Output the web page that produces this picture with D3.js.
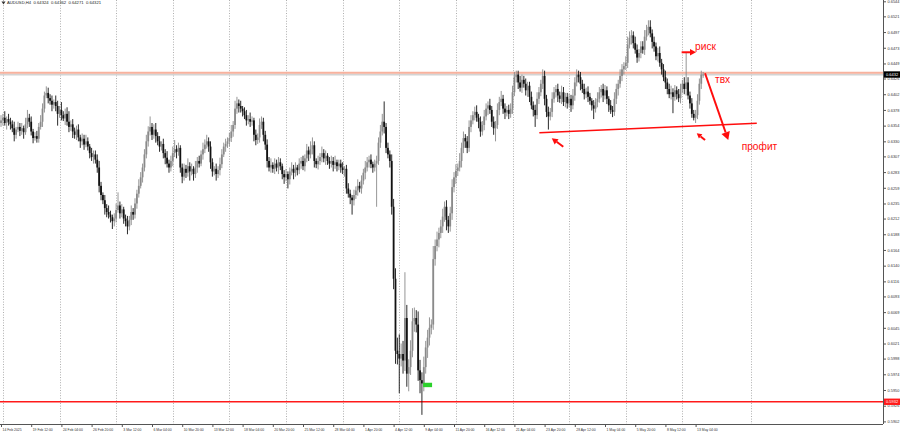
<!DOCTYPE html>
<html><head><meta charset="utf-8">
<script src="https://cdn.jsdelivr.net/npm/d3@7"></script>
<style>
html,body{margin:0;padding:0;background:#fff;}
svg{display:block;font-family:"Liberation Sans",Arial,sans-serif;}
</style>
</head><body>
<svg id="chart" width="900" height="435"></svg>
<script>
// ---------- DATA ----------
const symbolTitle = "AUDUSD,H4";
const lastQuote = ["0.64324", "0.64362", "0.64271", "0.64321"]; // O H L C of the last bar
const pipSize = 0.0001;
const firstOpen = 6358; // in pips
// H4 closes, in pips (price / 0.0001), from 14 Feb 2025 20:00
const closes = [
6362,6366,6358,6364,6360,6356,6350,6340,6348,6352,
6346,6350,6344,6356,6366,6360,6345,6335,6338,6334,
6352,6360,6380,6400,6404,6396,6392,6386,6390,6384,
6372,6378,6370,6365,6372,6360,6352,6356,6345,6340,
6348,6336,6330,6334,6325,6330,6322,6312,6306,6310,
6302,6290,6262,6248,6240,6228,6222,6218,6214,6208,
6212,6225,6232,6220,6226,6212,6208,6200,6210,6222,
6218,6235,6250,6262,6275,6290,6310,6330,6345,6352,
6340,6348,6338,6330,6322,6326,6312,6305,6296,6290,
6300,6312,6318,6314,6320,6290,6276,6288,6282,6292,
6284,6288,6280,6290,6300,6296,6310,6318,6325,6330,
6322,6298,6284,6288,6280,6286,6295,6310,6322,6326,
6330,6335,6345,6355,6380,6388,6384,6380,6376,6370,
6362,6364,6360,6362,6340,6332,6336,6355,6360,6340,
6325,6300,6290,6294,6288,6296,6290,6298,6292,6280,
6275,6280,6272,6284,6288,6282,6290,6286,6296,6300,
6292,6304,6316,6310,6318,6324,6300,6295,6300,6306,
6312,6304,6308,6300,6296,6300,6294,6298,6292,6296,
6290,6286,6288,6258,6250,6244,6240,6248,6255,6262,
6258,6270,6282,6290,6298,6302,6295,6290,6296,6300,
6328,6345,6360,6352,6320,6310,6300,6230,6120,6010,
6005,5998,6005,5995,6060,5975,5985,6010,6055,6060,
6050,5980,5965,5960,5985,6015,6030,6045,6050,6150,
6170,6180,6190,6200,6215,6230,6210,6200,6220,6260,
6275,6285,6290,6300,6320,6335,6330,6320,6352,6362,
6370,6375,6366,6360,6345,6355,6368,6380,6385,6378,
6360,6350,6355,6378,6390,6395,6380,6374,6378,6372,
6380,6405,6428,6432,6420,6412,6424,6418,6408,6415,
6398,6385,6378,6370,6395,6405,6418,6430,6395,6375,
6368,6375,6395,6405,6410,6400,6395,6405,6390,6398,
6388,6395,6385,6400,6420,6432,6428,6418,6410,6402,
6406,6398,6392,6385,6380,6390,6395,6405,6410,6400,
6408,6395,6385,6378,6375,6395,6410,6418,6430,6440,
6445,6450,6478,6488,6492,6480,6470,6458,6465,6475,
6470,6490,6500,6505,6495,6482,6475,6460,6465,6450,
6440,6428,6420,6410,6402,6405,6398,6408,6402,6396,
6410,6418,6410,6420,6400,6388,6372,6366,6370,6392,
6418,6432,6432
];
// upper wick above the body, in pips
const wickUp = [
8,6,10,4,8,6,6,10,4,8, 6,8,4,10,12,6,8,4,6,8, 6,10,8,6,10,8,6,8,4,10, 8,6,12,6,8,10,16,6,8,6,
6,8,4,8,6,10,6,4,8,6, 6,8,10,6,4,8,6,10,6,4, 8,10,20,6,8,4,6,8,6,10, 6,8,6,10,8,6,8,10,8,16,
6,8,10,6,8,4,8,6,10,6, 8,10,14,6,8,4,6,8,6,12, 6,8,4,10,6,8,6,10,8,10, 6,8,6,4,8,6,10,8,6,8,
6,8,10,6,12,10,6,8,4,6, 8,6,10,6,4,8,6,10,8,6, 6,8,6,10,4,8,6,8,6,4, 6,8,4,6,10,6,8,4,8,6,
8,6,10,6,12,12,6,4,8,6, 10,6,8,4,6,8,6,10,4,6, 6,8,4,6,8,6,4,8,6,10, 6,8,6,10,8,6,8,4,6,8,
8,10,12,31,6,8,6,10,12,16, 20,30,16,20,70,20,12,16,20,16, 12,20,16,12,16,10,12,16,8,20, 10,12,8,10,12,8,10,6,10,12,
8,10,6,12,8,10,6,8,10,8, 6,8,10,6,8,6,10,8,6,10, 6,8,6,10,8,12,6,8,6,8, 8,10,8,6,6,10,8,6,8,6,
6,8,6,8,10,8,6,10,8,6, 8,6,10,8,6,8,6,10,8,6, 6,8,6,10,8,8,6,8,6,8, 6,8,6,4,8,6,10,8,6,8,
8,6,4,8,6,10,8,6,10,8, 6,10,12,10,8,6,10,8,6,8, 8,10,8,10,10,6,8,6,8,10, 6,8,10,6,8,10,6,8,6,8,
8,6,10,45,8,6,8,6,8,10, 8,6,4
];
// lower wick below the body, in pips
const wickDn = [
6,8,4,10,6,8,6,10,6,4, 8,6,10,4,6,8,6,8,4,6, 6,4,8,6,4,8,6,10,6,8, 18,6,8,4,10,6,8,6,10,6,
8,6,10,6,8,4,6,8,6,10, 6,8,10,8,6,10,8,6,8,12, 8,6,4,8,6,8,8,12,6,8, 8,6,8,6,4,8,6,6,8,6,
8,6,10,6,8,6,8,10,6,8, 6,8,6,10,6,8,10,6,8,6, 14,6,10,6,8,6,4,8,6,6, 8,10,8,6,10,6,8,6,4,8,
6,8,6,8,6,8,10,6,8,6, 8,6,8,6,10,8,6,8,6,10, 8,10,6,8,6,8,6,10,6,8, 10,6,14,8,6,10,6,8,6,8,
6,8,6,10,6,8,10,6,8,6, 8,6,10,6,8,6,10,6,8,6, 8,6,10,8,6,10,22,8,6,8, 6,8,6,10,6,8,6,8,6,66,
6,8,6,10,8,6,10,12,16,20, 16,53,12,20,16,20,27,12,10,16, 12,16,20,48,12,10,16,12,10,8, 10,8,12,8,10,8,16,10,8,10,
8,10,8,6,10,8,10,8,6,8, 6,8,6,10,8,6,8,6,10,6, 8,10,20,6,8,6,8,10,6,8, 6,8,6,8,10,6,8,6,8,10,
8,6,10,18,6,8,6,8,10,8, 20,6,8,6,8,10,6,8,6,8, 8,6,10,6,8,6,8,10,6,8, 6,8,6,8,16,6,8,6,8,10,
6,8,10,6,8,6,8,10,6,8, 8,6,8,6,10,8,6,8,6,8, 6,8,6,8,6,10,8,6,8,6, 8,6,10,8,6,8,25,6,8,6,
8,6,8,10,6,8,6,4,8,6, 6,8,5
];
// time axis labels and the bar index they sit on
const timeLabels = ["14 Feb 2025","19 Feb 12:00","24 Feb 04:00","26 Feb 20:00","3 Mar 12:00","6 Mar 04:00",
  "10 Mar 20:00","13 Mar 12:00","18 Mar 04:00","20 Mar 20:00","25 Mar 12:00","28 Mar 04:00","1 Apr 20:00",
  "4 Apr 12:00","9 Apr 04:00","11 Apr 20:00","16 Apr 12:00","21 Apr 04:00","23 Apr 20:00","28 Apr 12:00",
  "1 May 04:00","5 May 20:00","8 May 12:00","13 May 04:00"];
const timeLabelBars = [0,16,32,48,64,80,96,112,128,144,160,176,192,208,224,240,256,272,288,304,320,336,352,368];
// weekly grid (Monday 00:00) bar positions
const weekGridBars = [1,31,61,91,121,151,181,211,241,271,301,331,361,397.5];
// price axis labels
const priceTicks = ["0.6544","0.6521","0.6497","0.6473","0.6449","0.6426","0.6402","0.6378","0.6354","0.6330",
  "0.6307","0.6283","0.6259","0.6235","0.6212","0.6188","0.6164","0.6140","0.6116","0.6093","0.6069","0.6045",
  "0.6021","0.5998","0.5974","0.5950","0.5926","0.5902"];
const bidPrice = 0.64321;
const bidLabel = "0.6432";
const resistanceLevel = 0.6435;   // salmon horizontal
const supportLevel = 0.5932;      // red horizontal
const supportLabel = "0.5932";
const signalMark = {bar: 226, price: 0.59577};
// hand-drawn annotations: [bar, price]
const trendLine = [[285.2, 0.63432], [400.4, 0.63576]];
const arrowLines = [ // [fromBar, fromPrice, toBar, toPrice, headSize]
  [297.9, 0.63218, 291.8, 0.63347, 6],
  [373.0, 0.63320, 368.6, 0.63423, 5],
  [360.6, 0.64661, 368.2, 0.64661, 6],
  [373.0, 0.64340, 385.3, 0.63320, 8]
];
const noteTexts = [ // [text, bar, price]
  ["риск", 367.7, 0.64703],
  ["твх", 378.3, 0.64196],
  ["профит", 392.4, 0.63168]
];

// ---------- DRAW ----------
const W = 900, H = 435, plotR = 883, plotB = 424;
const svg = d3.select("#chart");
const x = d3.scaleLinear().domain([0, 467.28]).range([1, plotR]);
const y = d3.scaleLinear().domain([0.5902, 0.6544]).range([421.4, 1.3]);

svg.append("rect").attr("width", W).attr("height", H).attr("fill", "#fff");

const plot = svg.append("g");
svg.append("defs").append("clipPath").attr("id", "clip")
  .append("rect").attr("x", 0).attr("y", 0).attr("width", plotR).attr("height", plotB);
plot.attr("clip-path", "url(#clip)");

// grid
plot.selectAll("line.grid").data(weekGridBars).enter().append("line")
  .attr("x1", d => Math.round(x(d)) + 0.5).attr("x2", d => Math.round(x(d)) + 0.5)
  .attr("y1", 0).attr("y2", plotB)
  .attr("stroke", "#9a9a9a").attr("stroke-width", 0.8).attr("stroke-dasharray", "1,1.6");

// horizontal levels
plot.append("line").attr("x1", 0).attr("x2", plotR)
  .attr("y1", y(bidPrice)).attr("y2", y(bidPrice))
  .attr("stroke", "#d4d4d4").attr("stroke-width", 2);
plot.append("line").attr("x1", 0).attr("x2", plotR)
  .attr("y1", y(resistanceLevel)).attr("y2", y(resistanceLevel))
  .attr("stroke", "#f8b29e").attr("stroke-width", 2);
plot.append("line").attr("x1", 0).attr("x2", plotR)
  .attr("y1", y(supportLevel)).attr("y2", y(supportLevel))
  .attr("stroke", "#ff1a1a").attr("stroke-width", 1.3);

// candles
const bars = closes.map((c, i) => {
  const o = i === 0 ? firstOpen : closes[i - 1];
  const top = Math.max(o, c), bot = Math.min(o, c);
  return {i, o: o * pipSize, c: c * pipSize, h: (top + wickUp[i]) * pipSize, l: (bot - wickDn[i]) * pipSize, up: c >= o};
});
const cg = plot.append("g");
const bullCol = "#8a8a8a", bearCol = "#121212";
cg.selectAll("line.wick").data(bars).enter().append("line")
  .attr("x1", d => x(d.i)).attr("x2", d => x(d.i))
  .attr("y1", d => y(d.h)).attr("y2", d => y(d.l))
  .attr("stroke", d => d.up ? bullCol : bearCol).attr("stroke-width", 0.9);
cg.selectAll("rect.body").data(bars).enter().append("rect")
  .attr("x", d => x(d.i) - 0.9).attr("width", 1.8)
  .attr("y", d => y(Math.max(d.o, d.c)))
  .attr("height", d => Math.max(0.8, Math.abs(y(d.o) - y(d.c))))
  .attr("fill", d => d.up ? bullCol : bearCol);

// signal mark
plot.append("rect").attr("x", x(signalMark.bar) - 4.5).attr("y", y(signalMark.price) - 2.2)
  .attr("width", 9).attr("height", 4.4).attr("fill", "#2bd12b");

// annotations
const red = "#ff0d0d";
plot.append("line")
  .attr("x1", x(trendLine[0][0])).attr("y1", y(trendLine[0][1]))
  .attr("x2", x(trendLine[1][0])).attr("y2", y(trendLine[1][1]))
  .attr("stroke", red).attr("stroke-width", 1.6);
arrowLines.forEach(a => {
  const x1 = x(a[0]), y1 = y(a[1]), x2 = x(a[2]), y2 = y(a[3]), hs = a[4];
  const ang = Math.atan2(y2 - y1, x2 - x1);
  const bx = x2 - hs * Math.cos(ang), by = y2 - hs * Math.sin(ang);
  plot.append("line").attr("x1", x1).attr("y1", y1).attr("x2", bx).attr("y2", by)
    .attr("stroke", red).attr("stroke-width", 2);
  const w = hs * 0.55;
  const p = [[x2, y2],
    [bx + w * Math.sin(ang), by - w * Math.cos(ang)],
    [bx - w * Math.sin(ang), by + w * Math.cos(ang)]];
  plot.append("path").attr("d", "M" + p.map(q => q.join(",")).join("L") + "Z").attr("fill", red);
});
plot.selectAll("text.note").data(noteTexts).enter().append("text")
  .attr("x", d => x(d[1])).attr("y", d => y(d[2]))
  .attr("font-size", 10.2).attr("fill", red).text(d => d[0]);

// title
svg.append("path").attr("d", "M1.5,1.5L5.5,1.5L3.5,4.5Z").attr("fill", "#333");
svg.append("text").attr("x", 7).attr("y", 4.3).attr("font-size", 4.2).attr("fill", "#222")
  .attr("xml:space", "preserve")
  .text(symbolTitle + "  " + lastQuote.join("  "));

// axes
const yAxis = d3.axisRight(y).tickValues(priceTicks.map(Number))
  .tickFormat((d, i) => priceTicks[i]).tickSize(2.5).tickPadding(1.5);
const ya = svg.append("g").attr("transform", `translate(${plotR + 0.5},0)`).call(yAxis);
ya.select(".domain").attr("d", `M0,0V${plotB}`).attr("stroke", "#555").attr("stroke-width", 1);
ya.selectAll(".tick line").attr("stroke", "#555");
ya.selectAll(".tick text").attr("font-size", 3.9).attr("fill", "#333").attr("font-family", "Liberation Sans, Arial");

const xAxis = d3.axisBottom(x).tickValues(timeLabelBars)
  .tickFormat((d, i) => timeLabels[i]).tickSize(2.5).tickPadding(1.5);
const xa = svg.append("g").attr("transform", `translate(0,${plotB + 0.5})`).call(xAxis);
xa.select(".domain").attr("d", `M0,0H${plotR}`).attr("stroke", "#555").attr("stroke-width", 1);
xa.selectAll(".tick line").attr("stroke", "#555");
xa.selectAll(".tick text").attr("font-size", 3.4).attr("fill", "#333")
  .attr("text-anchor", "start").attr("dx", 1).attr("font-family", "Liberation Sans, Arial");

// price labels on the axis
function axisTag(price, label, bg) {
  const g = svg.append("g").attr("transform", `translate(${plotR + 1},${y(price)})`);
  g.append("rect").attr("x", 0).attr("y", -3.2).attr("width", W - plotR).attr("height", 6.4).attr("fill", bg);
  g.append("text").attr("x", 2).attr("y", 1.4).attr("font-size", 4).attr("fill", "#fff").text(label);
}
axisTag(bidPrice, bidLabel, "#000");
axisTag(supportLevel, supportLabel, "#ff1a1a");
</script>
</body></html>
